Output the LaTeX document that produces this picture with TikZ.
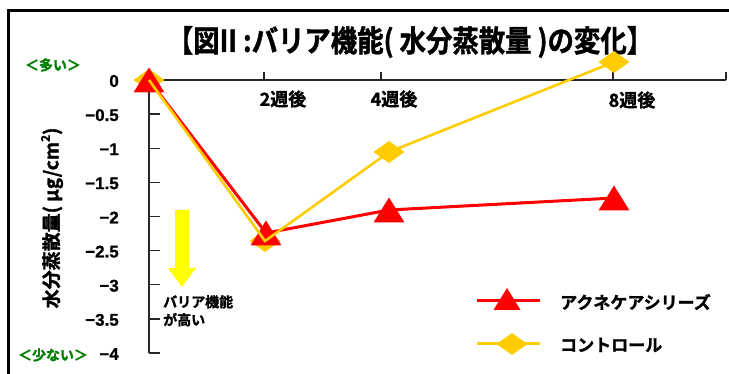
\documentclass[tikz,border=0pt]{standalone}
\usepackage{fontspec}
\usepackage{graphicx}
\newfontfamily\jp{Noto Sans CJK JP Bold}[FakeBold=1.5]
\newfontfamily\num{Liberation Sans Bold}[FakeBold=1]
\definecolor{gold}{RGB}{255,204,0}
\definecolor{mred}{RGB}{255,0,0}
\definecolor{ylw}{RGB}{255,255,0}
\definecolor{dgreen}{RGB}{0,128,0}
\tikzset{
  axisline/.style={line width=1.4pt, draw=black!85},
  redline/.style={draw=mred, line width=3pt},
  goldline/.style={draw=gold, line width=2.6pt},
  ticklab/.style={anchor=east, inner sep=0pt, font=\num\fontsize{17}{17}\selectfont},
  catlab/.style={inner sep=0pt, font=\jp\fontsize{18}{18}\selectfont},
  leglab/.style={anchor=west, inner sep=0pt, font=\jp\fontsize{17}{17}\selectfont},
  grn/.style={inner sep=0pt, text=dgreen, font=\jp\fontsize{14}{14}\selectfont},
  tri/.pic={\fill[mred] (-15.5,12.5) -- (15.5,12.5) -- (0,-12.5) -- cycle;},
  dia/.pic={\fill[gold] (-15.5,0) -- (0,-11) -- (15.5,0) -- (0,11) -- cycle;},
  legtri/.pic={\fill[mred] (-13.5,11) -- (13.5,11) -- (0,-11) -- cycle;}
}
\begin{document}
\begin{tikzpicture}[x=1pt,y=-1pt]
\useasboundingbox (0,0) rectangle (729,374);
\fill[white] (0,0) rectangle (729,374);
% frame
\coordinate (fa) at (760,10.7);
\coordinate (fb) at (8.5,10.7);
\coordinate (fc) at (8.5,400);
\draw[line width=3pt] (fa) -- (fb) -- (fc);
% title
\node[inner sep=0pt] (title) at (410,42) {\scalebox{0.88}[1]{\jp\fontsize{30}{30}\selectfont 【図II :バリア機能( 水分蒸散量 )の変化】}};
% axes
\coordinate (O) at (149,80);
\coordinate (Yend) at (149,353);
\coordinate (Xend) at (726,80);
\draw[axisline] (Yend) -- (O) -- (Xend);
\foreach \i in {1,...,8} \draw[axisline] (149,80+\i*34.125) -- ++(11,0);
\foreach \xx in {264,381,613,726} \draw[axisline] (\xx,80) -- ++(0,-8);
\foreach \v [count=\i from 0] in {0,−0.5,−1,−1.5,−2,−2.5,−3,−3.5,−4}
  \node[ticklab] (yl\i) at (119,81+\i*34.125) {\v};
% category labels
\node[catlab] (c2) at (283,99) {2週後};
\node[catlab] (c4) at (394,99) {4週後};
\node[catlab] (c8) at (632,100) {8週後};
% y-axis title
\node[inner sep=0pt, rotate=90] (ytitle) at (52,218) {\jp\fontsize{19}{19}\selectfont 水分蒸散量( μg/cm\raisebox{0.45em}{\fontsize{12}{12}\selectfont 2})};
% green labels
\node[grn] (many) at (53,65) {＜多い＞};
\node[grn] (few) at (53,355) {＜少ない＞};
% arrow
\fill[ylw] (175,210) -- (189,210) -- (189,268) -- (196,268) -- (182,287) -- (168,268) -- (175,268) -- cycle;
\node[anchor=north west, inner sep=0pt, align=left, font=\jp\fontsize{14}{18}\selectfont] (barrier) at (163,295) {バリア機能\\が高い};
% data points
\coordinate (r0) at (149,80);
\coordinate (r2) at (266,233);
\coordinate (r4) at (389,210);
\coordinate (r8) at (614,198);
\coordinate (k0) at (149,80);
\coordinate (k2) at (265,241);
\coordinate (k4) at (389,152);
\coordinate (k8) at (614,62);
% markers
\foreach \p in {k0,k2,k4,k8} \pic at (\p) {dia};
\foreach \p in {r0,r2,r4,r8} \pic at (\p) {tri};
% lines
\draw[redline] (r0) -- (r2) -- (r4) -- (r8);
\draw[goldline] (k0) -- (k2) -- (k4) -- (k8);
% legend
\coordinate (la) at (477,301);
\coordinate (lb) at (540,301);
\coordinate (lc) at (477,344);
\coordinate (ld) at (540,344);
\draw[redline] (la) -- (lb);
\pic at (507,299) {legtri};
\draw[goldline, line width=3pt] (lc) -- (ld);
\pic at (512,344) {dia};
\node[leglab] (l1) at (560,302) {アクネケアシリーズ};
\node[leglab] (l2) at (560,345) {コントロール};
\end{tikzpicture}
\end{document}
